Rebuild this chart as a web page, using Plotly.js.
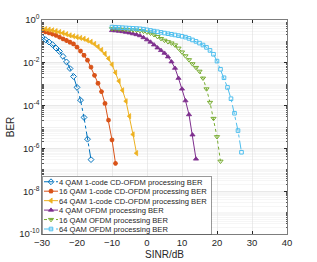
<!DOCTYPE html>
<html><head><meta charset="utf-8">
<script src="https://cdn.plot.ly/plotly-3.0.1.min.js"></script>
<style>html,body{margin:0;padding:0;background:#fff}#chart{width:317px;height:262px}</style>
</head><body><div id="chart"></div>
<script>
const seriesNames = [
  '4 QAM 1-code CD-OFDM processing BER',
  '16 QAM 1-code CD-OFDM processing BER',
  '64 QAM 1-code CD-OFDM processing BER',
  '4 QAM OFDM processing BER',
  '16 QAM OFDM processing BER',
  '64 QAM OFDM processing BER'
];
const sinrQam4CD = [-30,-29,-28,-27,-26,-25,-24,-23,-22,-21,-20,-19,-18,-17,-16];
const berQam4CD = [0.158,0.120,0.0933,0.0708,0.049,0.0339,0.02,0.011,0.0054,0.0023,7.1e-4,1.8e-4,2.8e-5,2.7e-6,3.0e-7];
const sinrQam16CD = [-30,-29,-28,-27,-26,-25,-24,-23,-22,-21,-20,-19,-18,-17,-16,-15,-14,-13,-12,-11,-10,-9];
const berQam16CD = [0.316,0.282,0.251,0.219,0.191,0.158,0.132,0.110,0.0912,0.0759,0.0537,0.0355,0.0224,0.0132,0.0063,0.0026,0.0011,4.5e-4,1.26e-4,2.1e-5,2.5e-6,2.0e-7];
const sinrQam64CD = [-30,-29,-28,-27,-26,-25,-24,-23,-22,-21,-20,-19,-18,-17,-16,-15,-14,-13,-12,-11,-10,-9,-8,-7,-6,-5,-4,-3];
const berQam64CD = [0.398,0.380,0.355,0.331,0.302,0.275,0.245,0.219,0.191,0.174,0.158,0.145,0.132,0.112,0.0955,0.0759,0.0562,0.0398,0.0263,0.0158,0.0083,0.0035,0.0014,5.2e-4,1.6e-4,3.2e-5,4.5e-6,6.0e-7];
const sinrQam4OFDM = [-10,-9,-8,-7,-6,-5,-4,-3,-2,-1,0,1,2,3,4,5,6,7,8,9,10,11,12,13,14];
const berQam4OFDM = [0.324,0.316,0.302,0.288,0.269,0.251,0.229,0.209,0.186,0.151,0.120,0.0933,0.0692,0.0501,0.038,0.0282,0.0191,0.0112,0.0056,0.0019,6.0e-4,1.7e-4,3.8e-5,4.3e-6,3.2e-7];
const sinrQam16OFDM = [-10,-9,-8,-7,-6,-5,-4,-3,-2,-1,0,1,2,3,4,5,6,7,8,9,10,11,12,13,14,15,16,17,18,19,20,21];
const berQam16OFDM = [0.389,0.380,0.372,0.363,0.355,0.347,0.339,0.331,0.316,0.295,0.269,0.240,0.204,0.166,0.135,0.112,0.0955,0.0832,0.0676,0.0479,0.0316,0.0209,0.0138,0.0089,0.006,0.004,0.0019,6.0e-4,1.4e-4,2.5e-5,3.5e-6,2.5e-7];
const sinrQam64OFDM = [-10,-9,-8,-7,-6,-5,-4,-3,-2,-1,0,1,2,3,4,5,6,7,8,9,10,11,12,13,14,15,16,17,18,19,20,21,22,23,24,25,26,27];
const berQam64OFDM = [0.468,0.457,0.447,0.437,0.427,0.417,0.407,0.398,0.389,0.372,0.347,0.324,0.302,0.282,0.263,0.245,0.229,0.214,0.2,0.186,0.174,0.158,0.138,0.117,0.1,0.0832,0.0676,0.0525,0.038,0.0251,0.012,0.005,0.002,7.1e-4,2.1e-4,4.4e-5,6.8e-6,6.6e-7];
const xTicks = [-30,-20,-10,0,10,20,30,40];
const yTickVals = [1e-10,1e-8,1e-6,1e-4,1e-2,1];
const yTickText = ['10<sup>-10</sup>','10<sup>-8</sup>','10<sup>-6</sup>','10<sup>-4</sup>','10<sup>-2</sup>','10<sup>0</sup>'];

const styles = [
  {color:'#0072BD', dash:'dashdot', symbol:'diamond-open', size:4.5, lw:1},
  {color:'#D95319', dash:'solid', symbol:'asterisk-open', size:4, lw:1.4},
  {color:'#EDB120', dash:'solid', symbol:'triangle-left', size:4.5, lw:0.8},
  {color:'#7E2F8E', dash:'solid', symbol:'triangle-up', size:4.5, lw:0.8},
  {color:'#77AC30', dash:'dot', symbol:'triangle-down-open', size:4.5, lw:1},
  {color:'#4DBEEE', dash:'dashdot', symbol:'square-open', size:3.6, lw:1}
];
const xs = [sinrQam4CD,sinrQam16CD,sinrQam64CD,sinrQam4OFDM,sinrQam16OFDM,sinrQam64OFDM];
const ys = [berQam4CD,berQam16CD,berQam64CD,berQam4OFDM,berQam16OFDM,berQam64OFDM];

const data = xs.map((x,i) => ({
  type:'scatter', mode:'lines+markers', name:seriesNames[i], x:x, y:ys[i],
  line:{color:styles[i].color, width:1, dash:styles[i].dash},
  marker:{symbol:styles[i].symbol, size:styles[i].size, color:styles[i].color, line:{color:styles[i].color, width:styles[i].lw}}
}));

const axisFont = {family:'Liberation Sans, Arial, sans-serif', size:9.5, color:'#262626'};
const layout = {
  width:317, height:262,
  margin:{l:42, r:30, t:20, b:28},
  paper_bgcolor:'#fff', plot_bgcolor:'#fff',
  font:axisFont,
  showlegend:true,
  legend:{x:0, y:0, xanchor:'left', yanchor:'bottom', bgcolor:'#fff', bordercolor:'#555', borderwidth:0.6,
          font:{family:'Liberation Sans, Arial, sans-serif', size:7.6, color:'#262626'}},
  xaxis:{range:[-30,40], tickvals:xTicks, ticks:'inside', ticklen:3, tickcolor:'#262626',
         showline:true, linecolor:'#262626', linewidth:0.6, mirror:'ticks',
         showgrid:true, gridcolor:'#dfdfdf', gridwidth:0.6, zeroline:false,
         tickfont:axisFont, title:{text:'SINR/dB', font:{family:'Liberation Sans, Arial, sans-serif', size:10, color:'#262626'}, standoff:3}},
  yaxis:{type:'log', range:[-10,0], tickvals:yTickVals, ticktext:yTickText, ticks:'inside', ticklen:3, tickcolor:'#262626',
         showline:true, linecolor:'#262626', linewidth:0.6, mirror:'ticks',
         showgrid:true, gridcolor:'#dfdfdf', gridwidth:0.6, zeroline:false,
         minor:{dtick:'D1', ticks:'inside', ticklen:1.5, tickcolor:'#555', showgrid:true, gridcolor:'#f0f0f0', gridwidth:0.6},
         tickfont:axisFont, title:{text:'BER', font:{family:'Liberation Sans, Arial, sans-serif', size:10, color:'#262626'}, standoff:2}}
};

const gd = document.getElementById('chart');
Plotly.newPlot(gd, data, layout, {staticPlot:true, displayModeBar:false}).then(() => {
  const leg = gd.querySelector('g.legend');
  if (!leg) return;
  const items = leg.querySelectorAll('g.traces');
  const rowH = 9.45, top = 6;
  let maxW = 0;
  items.forEach((g, i) => {
    g.setAttribute('transform', 'translate(0,' + (top + i*rowH) + ')');
    g.querySelectorAll('g.legendlines path').forEach(p => p.setAttribute('d', 'M2,0h14'));
    g.querySelectorAll('g.legendpoints path.scatterpts').forEach(p => p.setAttribute('transform', 'translate(9,0)'));
    const t = g.querySelector('text.legendtext');
    if (t) {
      t.setAttribute('x', 17);
      t.querySelectorAll('tspan').forEach(s => { if (s.hasAttribute('x')) s.setAttribute('x', 17); });
      maxW = Math.max(maxW, 17 + t.getComputedTextLength());
    }
  });
  const W = maxW + 4, H = top + 5*rowH + 5;
  const bg = leg.querySelector('rect.bg');
  if (bg) { bg.setAttribute('width', W); bg.setAttribute('height', H); }
  const sb = leg.querySelector('g.scrollbox');
  if (sb) sb.setAttribute('transform', 'translate(0,0)');
  const clip = document.querySelector('clipPath[id*="legend"] rect');
  if (clip) { clip.setAttribute('width', W); clip.setAttribute('height', H); clip.setAttribute('x',0); clip.setAttribute('y',0); }
  leg.setAttribute('transform', 'translate(42,' + (234 - H) + ')');
});
</script>
</body></html>
